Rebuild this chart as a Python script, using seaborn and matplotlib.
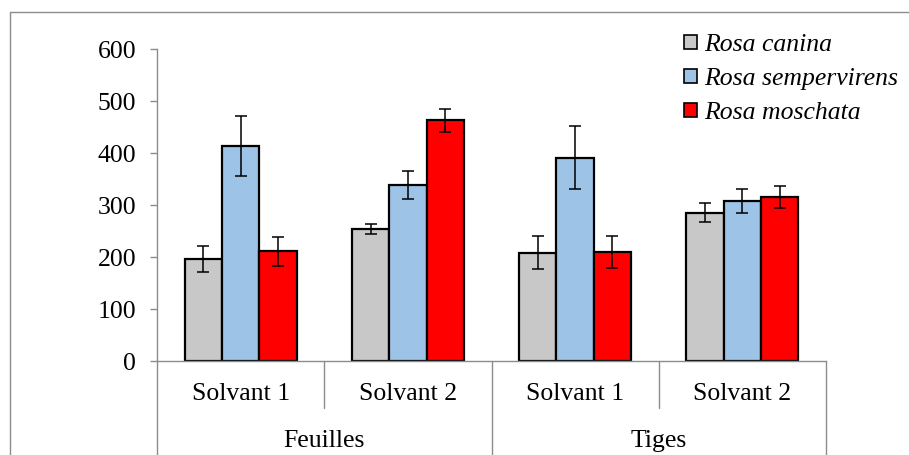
"""
Grouped bar chart: three Rosa species, two organs (Feuilles / Tiges) x two solvents,
with error bars and an Excel-style two-level category axis.
"""

import matplotlib

matplotlib.use("Agg")
import matplotlib.pyplot as plt
import matplotlib.patches as mpatches
import matplotlib.transforms as mtransforms
from matplotlib.lines import Line2D
import pandas as pd
import seaborn as sns

# Data
ORGANS = ["Feuilles", "Tiges"]
SOLVENTS = ["Solvant 1", "Solvant 2"]
CATEGORIES = ["Feuilles - Solvant 1", "Feuilles - Solvant 2",
              "Tiges - Solvant 1", "Tiges - Solvant 2"]
SPECIES = ["Rosa canina", "Rosa sempervirens", "Rosa moschata"]

canina_values = [196, 254, 208, 285]
canina_errors = [25, 10, 32, 18]
sempervirens_values = [413, 339, 391, 308]
sempervirens_errors = [58, 27, 61, 23]
moschata_values = [211, 463, 210, 316]
moschata_errors = [28, 22, 31, 21]

Y_TICKS = [0, 100, 200, 300, 400, 500, 600]

# Figure settings
COLORS = ["#C8C8C8", "#9DC3E6", "#FF0000"]
AXIS_GRAY = "#8C8C8C"
FONTSIZE = 18.5
FONT = "Liberation Serif"

sns.set_style("white")
plt.rcParams["font.family"] = [FONT, "DejaVu Serif"]
plt.rcParams["text.color"] = "black"
plt.rcParams["ytick.labelcolor"] = "black"


def main():
    values = [canina_values, sempervirens_values, moschata_values]
    errors = [canina_errors, sempervirens_errors, moschata_errors]
    rows = []
    for sp, vals, errs in zip(SPECIES, values, errors):
        for cat, v, e in zip(CATEGORIES, vals, errs):
            rows.append({"category": cat, "species": sp, "value": v, "err": e})
    df = pd.DataFrame(rows)

    fig = plt.figure(figsize=(9.09, 4.55), dpi=100)
    ax = fig.add_axes([157 / 909, 1 - 361 / 455, (826 - 157) / 909, 312 / 455])

    sns.barplot(
        data=df, x="category", y="value", hue="species",
        order=CATEGORIES, hue_order=SPECIES, palette=COLORS, saturation=1,
        width=0.669, errorbar=None, edgecolor="black", linewidth=1.6,
        ax=ax, legend=False,
    )

    # Error bars on top of each bar (patches are in hue order, then category order)
    bars = [p for p in ax.patches if p.get_height() > 0]
    for bar, (_, row) in zip(bars, df.iterrows()):
        ax.errorbar(
            bar.get_x() + bar.get_width() / 2, row["value"], yerr=row["err"],
            fmt="none", ecolor="black", elinewidth=1.1, capsize=4.5, capthick=1.1,
        )

    ax.set_ylim(0, 600)
    ax.set_xlim(-0.5, len(CATEGORIES) - 0.5)
    ax.set_yticks(Y_TICKS)
    ax.set_xticks([])
    ax.set_xlabel("")
    ax.set_ylabel("")
    ax.tick_params(axis="y", labelsize=FONTSIZE, length=5, width=1,
                   color=AXIS_GRAY, labelcolor="black", pad=10, left=True)
    for side in ["top", "right"]:
        ax.spines[side].set_visible(False)
    for side in ["left", "bottom"]:
        ax.spines[side].set_color(AXIS_GRAY)
        ax.spines[side].set_linewidth(1)

    # Two-level category axis
    trans = mtransforms.blended_transform_factory(ax.transData, ax.transAxes)
    for i in range(len(CATEGORIES) + 1):
        x = i - 0.5
        y_end = -0.151 if i % 2 == 1 else -0.5
        ax.add_line(Line2D([x, x], [0, y_end], transform=trans, color=AXIS_GRAY,
                           lw=1, clip_on=False))
    for i, cat in enumerate(CATEGORIES):
        ax.text(i, -0.107, SOLVENTS[i % 2], transform=trans, ha="center",
                va="center", fontsize=FONTSIZE)
    for j, organ in enumerate(ORGANS):
        ax.text(2 * j + 0.5, -0.255, organ, transform=trans, ha="center",
                va="center", fontsize=FONTSIZE)

    # Legend
    handles = [mpatches.Patch(facecolor=c, edgecolor="black", linewidth=1.2)
               for c in COLORS]
    fig.legend(
        handles, SPECIES, loc="upper left", bbox_to_anchor=(684 / 909, 1 - 34 / 455),
        frameon=False, prop={"family": FONT, "style": "italic", "size": FONTSIZE},
        handlelength=0.5, handleheight=0.5, handletextpad=0.3,
        labelspacing=0.47, borderpad=0, borderaxespad=0,
    )

    # Outer chart frame (left and top edges visible in the crop)
    fig.add_artist(Line2D([10 / 909, 10 / 909], [0, 1 - 12 / 455],
                          transform=fig.transFigure, color=AXIS_GRAY, lw=1))
    fig.add_artist(Line2D([10 / 909, 1], [1 - 12 / 455, 1 - 12 / 455],
                          transform=fig.transFigure, color=AXIS_GRAY, lw=1))

    fig.savefig("out.png", dpi=100)
    plt.close(fig)


if __name__ == "__main__":
    main()
